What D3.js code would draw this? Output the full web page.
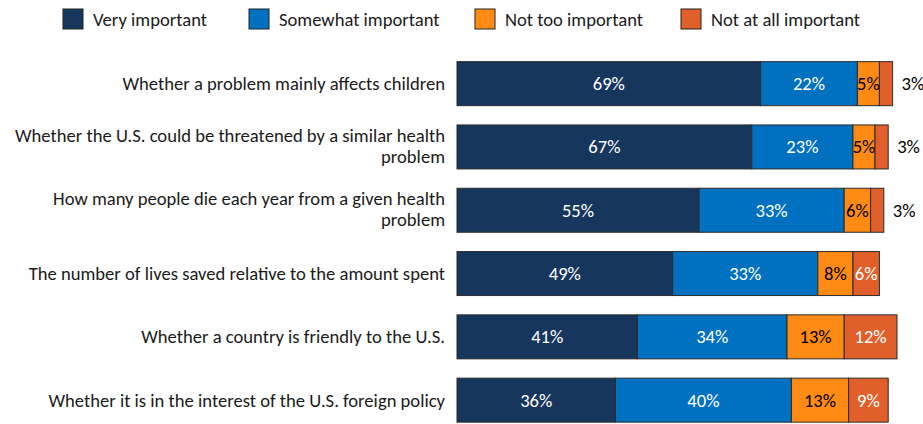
<!DOCTYPE html>
<html><head><meta charset="utf-8">
<script src="https://cdn.jsdelivr.net/npm/d3@7"></script>
<style>
body{margin:0;background:#fff;}
svg text{font-family:Carlito, Calibri, Lato, "Open Sans", sans-serif;}
</style></head>
<body><svg id="chart" width="923" height="424"></svg>
<script>
const categories = [
  ["Whether a problem mainly affects children"],
  ["Whether the U.S. could be threatened by a similar health", "problem"],
  ["How many people die each year from a given health", "problem"],
  ["The number of lives saved relative to the amount spent"],
  ["Whether a country is friendly to the U.S."],
  ["Whether it is in the interest of the U.S. foreign policy"]
];
const seriesNames = ["Very important", "Somewhat important", "Not too important", "Not at all important"];
const veryImportant = [69, 67, 55, 49, 41, 36];
const somewhatImportant = [22, 23, 33, 33, 34, 40];
const notTooImportant = [5, 5, 6, 8, 13, 13];
const notAtAllImportant = [3, 3, 3, 6, 12, 9];
const colors = ["#17365d", "#0070c0", "#ff8b14", "#e05f2a"];
const labelColors = ["#ffffff", "#ffffff", "#000000", "#ffffff"];

const svg = d3.select("#chart");
const keys = ["v", "s", "n", "a"];
const rows = categories.map((c, i) => ({
  id: i, v: veryImportant[i], s: somewhatImportant[i], n: notTooImportant[i], a: notAtAllImportant[i]
}));
const stacked = d3.stack().keys(keys)(rows);

const x = d3.scaleLinear().domain([0, 100]).range([457, 897]);
const y = d3.scaleBand().domain(rows.map(r => r.id)).range([52, 431.8]).paddingInner(0.305).paddingOuter(0.1525);

const fs = 18.6;
const g = svg.append("g");
stacked.forEach((layer, k) => {
  const lg = g.append("g");
  lg.selectAll("rect").data(layer).join("rect")
    .attr("x", d => x(d[0])).attr("y", d => y(d.data.id))
    .attr("width", d => x(d[1]) - x(d[0])).attr("height", y.bandwidth())
    .attr("fill", colors[k]).attr("stroke", "#2b2b2b").attr("stroke-width", 1);
  lg.selectAll("text").data(layer).join("text")
    .each(function(d) {
      const val = d[1] - d[0];
      const w = x(d[1]) - x(d[0]);
      const t = d3.select(this);
      const cy = y(d.data.id) + y.bandwidth() / 2;
      if (k === 3 && w < 20) {
        t.attr("x", x(d[1]) + 9).attr("text-anchor", "start").attr("fill", "#000");
      } else {
        t.attr("x", (x(d[0]) + x(d[1])) / 2).attr("text-anchor", "middle").attr("fill", labelColors[k]);
      }
      t.attr("y", cy).attr("dy", "0.35em").attr("font-size", fs).text(val + "%");
    });
});

// category labels
const cl = svg.append("g");
rows.forEach((r, i) => {
  const lines = categories[i];
  const cy = y(r.id) + y.bandwidth() / 2;
  const lh = 21;
  const t = cl.append("text").attr("text-anchor", "end").attr("font-size", fs).attr("fill", "#1a1a1a");
  lines.forEach((ln, j) => {
    t.append("tspan").attr("x", 445)
      .attr("y", cy + (j - (lines.length - 1) / 2) * lh - (lines.length > 1 ? 1 : 0))
      .attr("dy", "0.35em").text(ln);
  });
});

// legend
const leg = svg.append("g");
const legX = [63, 249, 475, 681];
seriesNames.forEach((name, k) => {
  leg.append("rect").attr("x", legX[k]).attr("y", 9).attr("width", 20).attr("height", 20)
    .attr("fill", colors[k]).attr("stroke", "#222").attr("stroke-width", 1);
  leg.append("text").attr("x", legX[k] + 30).attr("y", 19).attr("dy", "0.35em")
    .attr("font-size", fs).attr("fill", "#1a1a1a").text(name);
});
</script></body></html>
